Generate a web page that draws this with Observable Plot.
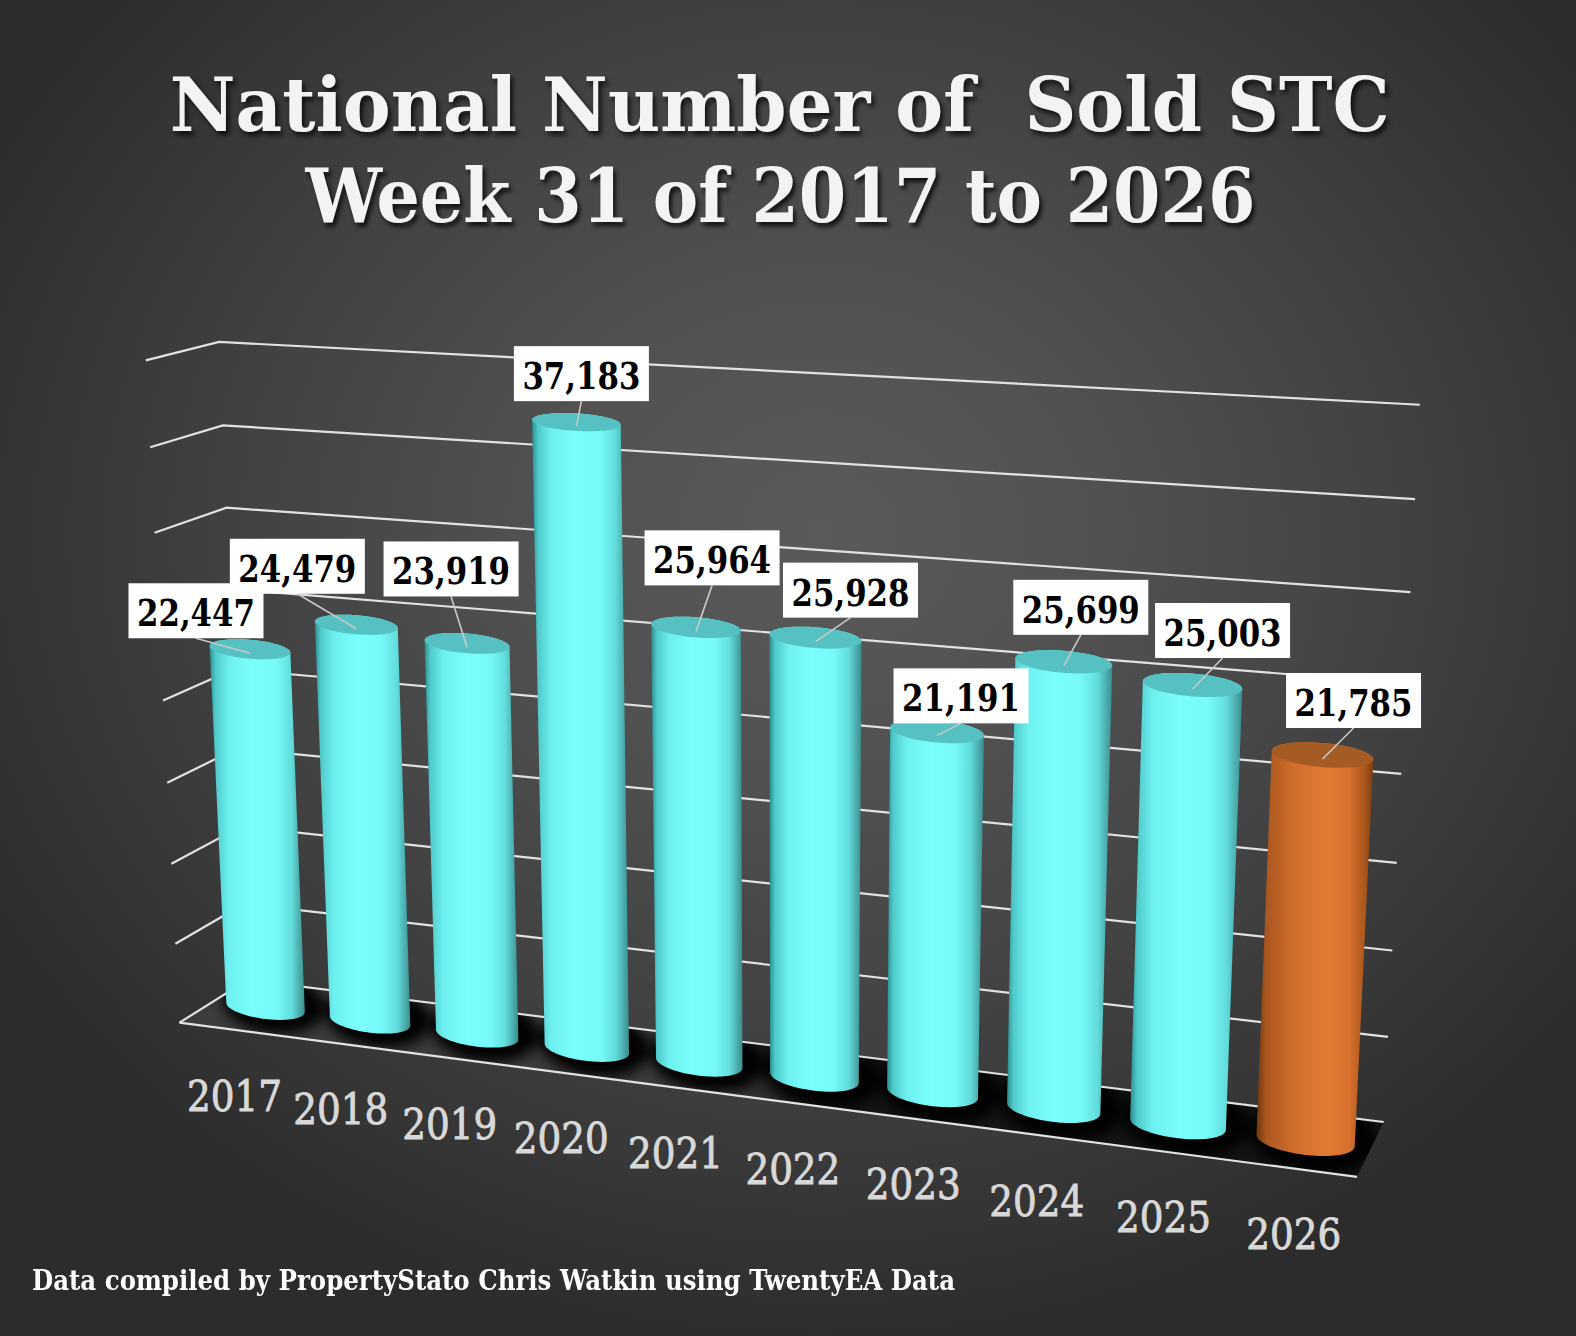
<!DOCTYPE html>
<html><head><meta charset="utf-8">
<script src="https://cdn.jsdelivr.net/npm/d3@7"></script>
<script src="https://cdn.jsdelivr.net/npm/@observablehq/plot@0.6"></script>
<style>
html,body{margin:0;padding:0;}
body{width:1576px;height:1336px;overflow:hidden;background:#2c2c2c;}
#wrap{position:relative;width:1576px;height:1336px;overflow:hidden;
  background:radial-gradient(ellipse 950px 820px at 52% 40%, #5a5a5a 0%, #515151 30%, #414141 62%, #2c2c2c 100%);}
#chart{position:absolute;left:0;top:0;}
.title{position:absolute;left:0;width:1560px;text-align:center;font-family:"DejaVu Serif",serif;font-weight:bold;
  color:#f3f3f3;font-size:75px;line-height:75px;white-space:pre;text-shadow:3px 4px 5px rgba(0,0,0,0.75);}
.title span{display:inline-block;transform-origin:50% 50%;}
#caption{position:absolute;left:32px;top:1267px;font-family:"DejaVu Serif",serif;font-weight:bold;color:#ffffff;
  font-size:27px;line-height:27px;white-space:pre;transform-origin:0 50%;}
</style></head>
<body><div id="wrap">
<div id="chart"></div>
<div class="title" id="t1" style="top:68px"><span>National Number of  Sold STC</span></div>
<div class="title" id="t2" style="top:159px"><span>Week 31 of 2017 to 2026</span></div>
<div id="caption">Data compiled by PropertyStato Chris Watkin using TwentyEA Data</div>
</div>
<script>
// ---- data ----
const years = ["2017","2018","2019","2020","2021","2022","2023","2024","2025","2026"];
const sold  = [22447, 24479, 23919, 37183, 25964, 25928, 21191, 25699, 25003, 21785];
const currentYear = "2026";
const gridValues = [0, 5000, 10000, 15000, 20000, 25000, 30000, 35000, 40000];
// label nudges (box centre / box bottom relative to the top of each cylinder)
const labelDx = [-54, -59, -16, 5, 16, 35, 24, 17, 30, 31];
const labelDy = [-11, -31, -47, -21, -42, -20, -8, -27, -27, -27];

// ---- 3D frame of the chart (box corners: [x 0..1, value, depth 0..1] -> pixel) ----
const frame = [
  [0, 40000, 0, 219, 342], [0, 35000, 0, 223, 425], [0, 30000, 0, 227, 508], [0, 0, 0, 247, 980],
  [1, 40000, 0, 1420, 405], [1, 35000, 0, 1415, 499], [1, 30000, 0, 1410, 592],
  [1, 15000, 0, 1397, 863], [1, 10000, 0, 1393, 950], [1, 5000, 0, 1388, 1037], [1, 0, 0, 1383, 1122],
  [0, 40000, 1, 145, 361], [0, 35000, 1, 150, 447], [0, 30000, 1, 155, 532],
  [0, 15000, 1, 167, 783], [0, 10000, 1, 172, 864], [0, 5000, 1, 175, 943], [0, 0, 1, 180, 1023],
  [1, 0, 1, 1357, 1177]
];

const rows = years.map((year, i) => ({year, value: sold[i], current: year === currentYear}));
const fmt = d3.format(",");

function fitCamera(pts) {
  const n = 11;
  const M = Array.from({length: n}, () => new Array(n).fill(0));
  const b = new Array(n).fill(0);
  const add = (row, rhs) => {
    for (let i = 0; i < n; i++) { b[i] += row[i] * rhs; for (let j = 0; j < n; j++) M[i][j] += row[i] * row[j]; }
  };
  for (const [X, Y, Z, u, v] of pts) {
    add([X, Y, Z, 1, 0, 0, 0, 0, -u * X, -u * Y, -u * Z], u);
    add([0, 0, 0, 0, X, Y, Z, 1, -v * X, -v * Y, -v * Z], v);
  }
  for (let c = 0; c < n; c++) {
    let p = c;
    for (let r = c + 1; r < n; r++) if (Math.abs(M[r][c]) > Math.abs(M[p][c])) p = r;
    [M[c], M[p]] = [M[p], M[c]]; [b[c], b[p]] = [b[p], b[c]];
    for (let r = 0; r < n; r++) {
      if (r === c) continue;
      const f = M[r][c] / M[c][c];
      for (let k = c; k < n; k++) M[r][k] -= f * M[c][k];
      b[r] -= f * b[c];
    }
  }
  const h = b.map((v, i) => v / M[i][i]);
  return ([X, Y, Z]) => {
    const w = h[8] * X + h[9] * Y + h[10] * Z + 1;
    return [(h[0] * X + h[1] * Y + h[2] * Z + h[3]) / w, (h[4] * X + h[5] * Y + h[6] * Z + h[7]) / w];
  };
}
let cam = null;
function camera(scales) {
  if (!cam) cam = fitCamera(frame.map(([x, val, z, u, v]) => [x, scales.y(val), z, u, v]));
  return cam;
}
function ellipseAt(P, xc, r, Y, Z) {
  const c = P([xc, Y, Z]), a = P([xc - r, Y, Z]), b = P([xc + r, Y, Z]);
  const rx = Math.hypot(b[0] - a[0], b[1] - a[1]) / 2;
  const ang = Math.atan2(b[1] - a[1], b[0] - a[0]);
  return {c, rx, ry: rx * (0.29 - 0.1 * Y), ang};
}
function ellipsePts(e, k = 1, kr = 1, dx = 0, dy = 0) {
  const ca = Math.cos(e.ang), sa = Math.sin(e.ang);
  return d3.range(90).map(j => {
    const t = j / 90 * 2 * Math.PI;
    const x = e.rx * k * Math.cos(t), y = e.ry * kr * Math.sin(t);
    return [e.c[0] + dx + x * ca - y * sa, e.c[1] + dy + x * sa + y * ca];
  });
}
const poly = pts => "M" + pts.map(p => p[0].toFixed(2) + "," + p[1].toFixed(2)).join("L") + "Z";

// floor + shadows
function renderFloor(index, scales) {
  const P = camera(scales);
  const g = d3.create("svg:g");
  const defs = g.append("defs");
  const fb = P([0.5, 0, 0]), ff = P([0.5, 0, 1]);
  const lg = defs.append("linearGradient").attr("id", "floorGrad").attr("gradientUnits", "userSpaceOnUse")
    .attr("x1", fb[0]).attr("y1", fb[1]).attr("x2", ff[0]).attr("y2", ff[1]);
  lg.append("stop").attr("offset", 0).attr("stop-color", "#141414");
  lg.append("stop").attr("offset", 0.5).attr("stop-color", "#262626");
  lg.append("stop").attr("offset", 1).attr("stop-color", "#3c3c3c");
  defs.append("filter").attr("id", "shadowBlur").attr("x", "-50%").attr("y", "-50%").attr("width", "200%").attr("height", "200%")
    .append("feGaussianBlur").attr("stdDeviation", 7);
  const floorPts = [[0, 0, 0], [1, 0, 0], [1, 0, 1], [0, 0, 1]].map(P);
  defs.append("clipPath").attr("id", "floorClip").append("path").attr("d", poly(floorPts));
  g.append("path").attr("d", poly(floorPts)).attr("fill", "url(#floorGrad)");
  const r = scales.x.bandwidth() / 2;
  const sg = g.append("g").attr("clip-path", "url(#floorClip)").append("g").attr("filter", "url(#shadowBlur)");
  for (const d of rows) {
    const xc = scales.x(d.year) + r;
    const e = ellipseAt(P, xc, r, 0, 0.5);
    sg.append("path").attr("d", poly(ellipsePts(e, 1.3, 2.6, 8, -4))).attr("fill", "#000");
  }
  return g.node();
}

// gridlines on back wall + left wall, floor front edge
function renderGrid(index, scales) {
  const P = camera(scales);
  const g = d3.create("svg:g").attr("stroke", "#e2e2e2").attr("stroke-width", 2.2).attr("fill", "none");
  for (const i of index) {
    const Y = scales.y(gridValues[i]);
    const a = P([0, Y, 1]), b = P([0, Y, 0]), c = P([1, Y, 0]);
    g.append("path").attr("d", `M${a}L${b}L${c}`);
  }
  const f0 = P([0, 0, 1]), f1 = P([1, 0, 1]);
  g.append("path").attr("d", `M${f0}L${f1}`);
  return g.node();
}

// cylinders
function renderBars(index, scales) {
  const P = camera(scales);
  const g = d3.create("svg:g");
  const defs = g.append("defs");
  const grads = {
    prior: [[0, "#2c8b8d"], [0.06, "#4fc9ca"], [0.2, "#6eeff0"], [0.45, "#7bfefe"], [0.7, "#77f9f9"], [0.86, "#62dcdc"], [0.95, "#4aa9aa"], [1, "#3a8c8d"]],
    current: [[0, "#6e3410"], [0.08, "#a9561f"], [0.3, "#cf6c2c"], [0.6, "#e27b32"], [0.8, "#d56f2b"], [0.93, "#a8561d"], [1, "#7a3d12"]]
  };
  for (const [k, stops] of Object.entries(grads)) {
    const lg = defs.append("linearGradient").attr("id", "cyl-" + k).attr("x1", 0).attr("x2", 1).attr("y1", 0).attr("y2", 0);
    for (const [o, c] of stops) lg.append("stop").attr("offset", o).attr("stop-color", c);
  }
  const topFill = {prior: "#55c1c2", current: "#a55c24"};
  const r = scales.x.bandwidth() / 2;
  for (const i of index) {
    const d = rows[i];
    const kind = d.current ? "current" : "prior";
    const xc = scales.x(d.year) + r;
    const Y = scales.y(d.value);
    const top = ellipseAt(P, xc, r, Y, 0.5), bot = ellipseAt(P, xc, r, 0, 0.5);
    const tp = ellipsePts(top), bp = ellipsePts(bot);
    const hull = d3.polygonHull(tp.concat(bp));
    g.append("path").attr("d", poly(hull)).attr("fill", `url(#cyl-${kind})`);
    g.append("path").attr("d", poly(tp)).attr("fill", topFill[kind]);
  }
  return g.node();
}

// value labels
function renderValueLabels(index, scales) {
  const P = camera(scales);
  const g = d3.create("svg:g");
  const r = scales.x.bandwidth() / 2;
  for (const i of index) {
    const d = rows[i];
    const c = P([scales.x(d.year) + r, scales.y(d.value), 0.5]);
    const bx = c[0] + labelDx[i], by = c[1] + labelDy[i];
    g.append("line").attr("x1", bx).attr("y1", by).attr("x2", c[0]).attr("y2", c[1] + 4)
      .attr("stroke", "#c8c8c8").attr("stroke-width", 1.6);
    g.append("rect").attr("x", bx - 67.5).attr("y", by - 55).attr("width", 135).attr("height", 55).attr("fill", "#ffffff");
    g.append("text").attr("x", bx).attr("y", by - 12).attr("text-anchor", "middle")
      .attr("font-family", "DejaVu Serif, serif").attr("font-weight", "bold").attr("font-size", 37)
      .attr("textLength", 118).attr("lengthAdjust", "spacingAndGlyphs").attr("fill", "#000")
      .text(fmt(d.value));
  }
  return g.node();
}

// year labels in front of the floor
function renderYears(index, scales) {
  const P = camera(scales);
  const g = d3.create("svg:g");
  const r = scales.x.bandwidth() / 2;
  for (const i of index) {
    const d = rows[i];
    const f = P([scales.x(d.year) + r, 0, 1]);
    g.append("text").attr("x", f[0] + 3).attr("y", f[1] + 81).attr("text-anchor", "middle")
      .attr("font-family", "DejaVu Serif, serif").attr("font-size", 42)
      .attr("stroke", "#d8d8d8").attr("stroke-width", 0.9)
      .attr("textLength", 95).attr("lengthAdjust", "spacingAndGlyphs").attr("fill", "#d8d8d8")
      .text(d.year);
  }
  return g.node();
}

const chart = Plot.plot({
  width: 1576, height: 1336, margin: 0,
  style: {background: "transparent", overflow: "visible"},
  x: {type: "band", domain: years, range: [0, 1], paddingInner: 0.24, paddingOuter: 0.12, round: false, axis: null},
  y: {type: "linear", domain: [0, 40000], range: [0, 1], axis: null},
  marks: [
    Plot.frame({render: renderFloor}),
    Plot.ruleY(gridValues, {y: d => d, render: renderGrid}),
    Plot.barY(rows, {x: "year", y: "value", render: renderBars}),
    Plot.text(rows, {x: "year", y: "value", text: d => fmt(d.value), render: renderValueLabels}),
    Plot.text(rows, {x: "year", text: "year", render: renderYears})
  ]
});
document.getElementById("chart").appendChild(chart);

// fit title / caption widths
function fit(el, target) {
  const w = el.getBoundingClientRect().width;
  if (w > 0) el.style.transform = `scaleX(${target / w})`;
}
fit(document.querySelector("#t1 span"), 1220);
fit(document.querySelector("#t2 span"), 950);
fit(document.getElementById("caption"), 923);
</script>
</body></html>
